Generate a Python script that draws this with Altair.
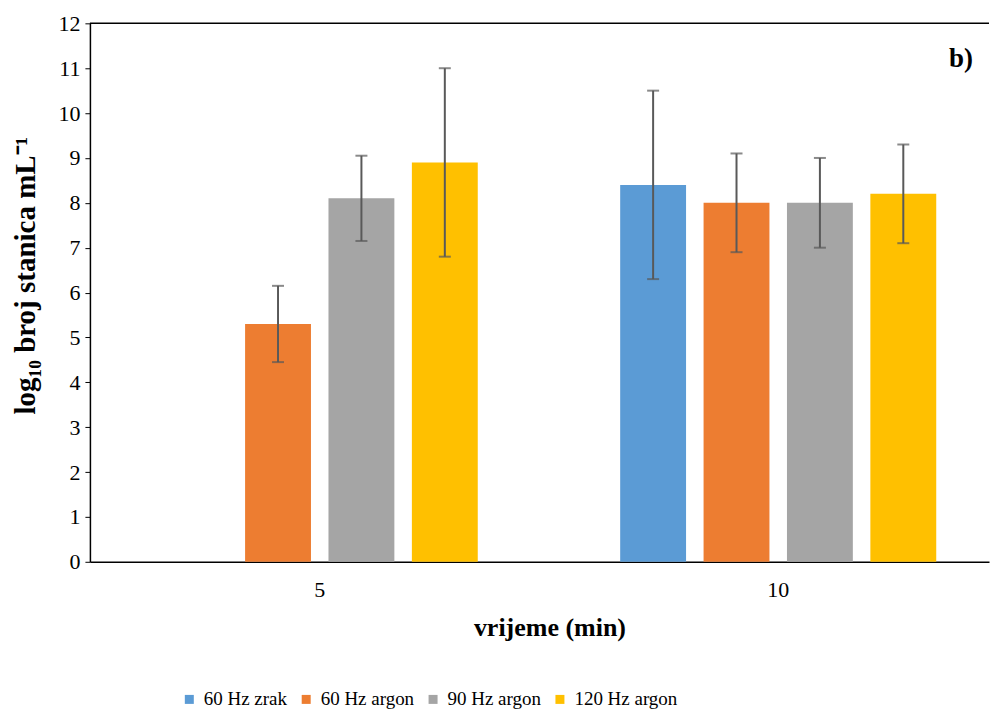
import altair as alt
import pandas as pd

times = ["5", "10"]
series = ["60 Hz zrak", "60 Hz argon", "90 Hz argon", "120 Hz argon"]
colors = ["#5B9BD5", "#ED7D31", "#A5A5A5", "#FFC000"]

val_5 = [None, 5.3, 8.1, 8.9]
lo_5 = [None, 4.45, 7.15, 6.8]
hi_5 = [None, 6.15, 9.05, 11.0]

val_10 = [8.4, 8.0, 8.0, 8.2]
lo_10 = [6.3, 6.9, 7.0, 7.1]
hi_10 = [10.5, 9.1, 9.0, 9.3]

rows = []
for t, vals, los, his in [("5", val_5, lo_5, hi_5), ("10", val_10, lo_10, hi_10)]:
    for s, v, lo, hi in zip(series, vals, los, his):
        if v is None:
            continue
        rows.append({"time": t, "series": s, "value": v, "lo": lo, "hi": hi})
df = pd.DataFrame(rows)

FONT = "'Liberation Serif', 'Times New Roman', Times, serif"

x = alt.X("time:N", sort=times,
          scale=alt.Scale(domain=times, paddingInner=0.1, paddingOuter=0.0305, align=0.84),
          axis=alt.Axis(title="vrijeme (min)", labelAngle=0, ticks=False, domainColor="black",
                        domainWidth=1.5, labelFont=FONT, labelFontSize=22, labelColor="black",
                        labelPadding=18, titleFont=FONT, titleFontSize=26, titleFontWeight="bold",
                        titleColor="black", titlePadding=14, titleX=460))
xo = alt.XOffset("series:N", sort=series,
                 scale=alt.Scale(domain=series, paddingInner=0.21, paddingOuter=0.579))

bars = alt.Chart(df).mark_bar().encode(
    x=x,
    xOffset=xo,
    y=alt.Y("value:Q", scale=alt.Scale(domain=[0, 12], nice=False),
            axis=alt.Axis(title="log₁₀ broj stanica mL⁻¹", values=list(range(0, 13)), grid=False,
                          tickSize=5, tickColor="black", domainColor="black", domainWidth=1.5,
                          labelFont=FONT, labelFontSize=22, labelColor="black", labelPadding=5,
                          titleFont=FONT, titleFontSize=29, titleFontWeight="bold",
                          titleColor="black", titlePadding=17, titleY=252)),
    color=alt.Color("series:N", sort=series, scale=alt.Scale(domain=series, range=colors),
                    legend=alt.Legend(title=None, orient="none", direction="horizontal",
                                      legendX=90, legendY=667, symbolType="square",
                                      symbolSize=81, symbolStrokeWidth=0,
                                      labelFont=FONT, labelFontSize=19, labelColor="black",
                                      columnPadding=9, labelOffset=5)),
)

err = alt.Chart(df).mark_rule(color="#595959", strokeWidth=2).encode(
    x=alt.X("time:N", sort=times), xOffset=xo, y="lo:Q", y2="hi:Q")

cap_lo = alt.Chart(df).mark_tick(color="#595959", thickness=2, size=12, orient="horizontal").encode(
    x=alt.X("time:N", sort=times), xOffset=xo, y="lo:Q")
cap_hi = alt.Chart(df).mark_tick(color="#595959", thickness=2, size=12, orient="horizontal").encode(
    x=alt.X("time:N", sort=times), xOffset=xo, y="hi:Q")

top = alt.Chart(pd.DataFrame({"y": [12]})).mark_rule(color="black", strokeWidth=1.5).encode(
    y=alt.Y("y:Q"))

label = alt.Chart(pd.DataFrame({"t": ["b)"]})).mark_text(
    font=FONT, fontSize=27, fontWeight="bold", color="black", align="center", baseline="middle"
).encode(text="t:N", x=alt.value(872), y=alt.value(36))

chart = alt.layer(bars, err, cap_lo, cap_hi, top, label).properties(
    width=900, height=539, padding={"left": 4, "top": 4, "right": 0, "bottom": 0}
).configure_view(stroke=None)

chart.save("out.html", embed_options={"renderer": "svg", "actions": False})
